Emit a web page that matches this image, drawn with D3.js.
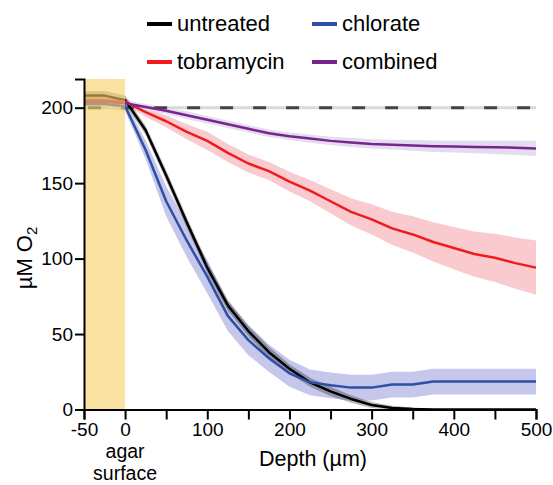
<!DOCTYPE html>
<html>
<head>
<meta charset="utf-8">
<script src="https://cdn.jsdelivr.net/npm/d3@7"></script>
<style>
    body { margin: 0; background: #fff; }
    text { font-family: "Liberation Sans", Arial, sans-serif; fill: #000; }
</style>
</head>
<body>
<script>
// Oxygen profiles below the agar surface, mean +/- spread per treatment

//Depth samples (um)
var depth = [-50, -25, 0, 25, 50, 75, 100, 125, 150, 175, 200, 225, 250,
    275, 300, 325, 350, 375, 400, 425, 450, 475, 500];

var untreated = [208, 208, 205, 185, 155, 124, 94, 69, 52, 38, 27, 18, 12,
    7, 3, 1, 0.3, 0, 0, 0, 0, 0, 0];
var untreatedSd = [3, 3, 3, 3, 3.5, 3.5, 3.5, 3.5, 3.5, 3.5, 3, 3, 3, 2.5,
    2, 1.5, 1, 0.5, 0, 0, 0, 0, 0];

var chlorate = [202.5, 202.5, 201, 172, 138, 112, 88, 62, 46, 34, 24, 18,
    16, 14.5, 14.5, 16.5, 16.5, 18.5, 18.5, 18.5, 18.5, 18.5, 18.5];
var chlorateSd = [3, 3, 3, 6, 10, 11, 11, 10, 10, 9, 9, 8.5, 8.5, 8.5, 8.5,
    8.5, 8.5, 8.5, 8.5, 8.5, 8.5, 8.5, 8.5];

var tobramycin = [205, 205, 204, 197, 191, 184, 178, 170, 163, 158, 151, 145,
    138, 131, 126, 120, 116, 111, 107, 103, 100.5, 97, 94];
var tobramycinSd = [2, 2, 2, 3, 4, 5, 6, 6, 6, 6, 6.5, 7, 8, 9, 10, 11, 12,
    13, 14, 15, 16, 17, 18];

var combined = [204, 204, 203, 200.5, 198, 195, 192, 189, 186, 183, 181,
    179.5, 178, 177, 176, 175.5, 175, 174.5, 174.3, 174, 173.8, 173.5, 173];
var combinedSd = [2, 2, 2, 2, 2, 2.5, 2.5, 2.5, 2.5, 2.5, 2.5, 2.7, 2.8, 3,
    3, 3.2, 3.5, 3.8, 4, 4.2, 4.5, 4.8, 5];

//Reference level and tick labels
var airLevel = 200;
var xTicks = [-50, 0, 50, 100, 150, 200, 250, 300, 350, 400, 450, 500];
var xLabels = ["-50", "0", "", "100", "", "200", "", "300", "", "400", "",
    "500"];
var yTicks = [0, 50, 100, 150, 200];

var series = [
    {name: "untreated", values: untreated, sd: untreatedSd,
        color: "#000000", band: "rgba(0,0,0,0.28)"},
    {name: "chlorate", values: chlorate, sd: chlorateSd,
        color: "#2f4ea6", band: "#c5c8ea"},
    {name: "tobramycin", values: tobramycin, sd: tobramycinSd,
        color: "#f01c1c", band: "#f9cbcf"},
    {name: "combined", values: combined, sd: combinedSd,
        color: "#7b2490", band: "#e2ddef"}
];

var width = 553,
    height = 485;

var svg = d3.select("body")
    .append("svg")
    .attr("width", width)
    .attr("height", height);

var x = d3.scaleLinear()
    .domain([-50, 500])
    .range([84, 536]);

var y = d3.scaleLinear()
    .domain([0, 219])
    .range([409.5, 79]);

//Bands first, in the order they stack in the figure
var bandOrder = [1, 2, 3, 0];
bandOrder.forEach(function(i) {
    var s = series[i];
    var area = d3.area()
        .x(function(d, j) { return x(depth[j]); })
        .y0(function(d, j) { return y(Math.max(0, d - s.sd[j])); })
        .y1(function(d, j) { return y(d + s.sd[j]); });
    svg.append("path")
        .datum(s.values)
        .attr("d", area)
        .attr("fill", s.band);
});

//Dashed reference line at air saturation
svg.append("line")
    .attr("x1", x(-50)).attr("x2", x(500))
    .attr("y1", y(airLevel)).attr("y2", y(airLevel))
    .attr("stroke", "#d9d9d9")
    .attr("stroke-width", 3);
svg.append("line")
    .attr("x1", x(-45)).attr("x2", x(500))
    .attr("y1", y(airLevel)).attr("y2", y(airLevel))
    .attr("stroke", "#444")
    .attr("stroke-width", 3)
    .attr("stroke-dasharray", "13,20");

//Mean lines
var line = d3.line()
    .x(function(d, j) { return x(depth[j]); })
    .y(function(d) { return y(d); });

series.forEach(function(s) {
    svg.append("path")
        .datum(s.values)
        .attr("d", line)
        .attr("fill", "none")
        .attr("stroke", s.color)
        .attr("stroke-width", 2.5)
        .attr("stroke-linejoin", "round");
});

//Agar region shading (translucent so lines show through)
svg.append("rect")
    .attr("x", x(-50))
    .attr("y", y(219))
    .attr("width", x(0) - x(-50))
    .attr("height", y(0) - y(219))
    .attr("fill", "rgb(247,209,100)")
    .attr("opacity", 0.6);

//Axes
var xAxis = d3.axisBottom(x)
    .tickValues(xTicks)
    .tickSize(10)
    .tickPadding(3)
    .tickFormat(function(d, i) { return xLabels[i]; });

svg.append("g")
    .attr("transform", "translate(0," + y(0) + ")")
    .call(xAxis);

var yAxis = d3.axisLeft(y)
    .tickValues(yTicks)
    .tickSize(9)
    .tickPadding(2);

svg.append("g")
    .attr("transform", "translate(" + x(-50) + ",0)")
    .call(yAxis);

svg.selectAll(".domain, .tick line")
    .attr("stroke", "#000")
    .attr("stroke-width", 2);
svg.selectAll(".tick text")
    .style("font-size", "19px")
    .style("font-family", "'Liberation Sans', Arial, sans-serif");

//Axis titles
svg.append("text")
    .attr("x", x(0))
    .attr("y", 458)
    .attr("text-anchor", "middle")
    .style("font-size", "19.5px")
    .text("agar");
svg.append("text")
    .attr("x", x(0))
    .attr("y", 480)
    .attr("text-anchor", "middle")
    .style("font-size", "19.5px")
    .text("surface");

svg.append("text")
    .attr("x", 313)
    .attr("y", 466)
    .attr("text-anchor", "middle")
    .style("font-size", "21.5px")
    .text("Depth (µm)");

var yTitle = svg.append("text")
    .attr("transform", "translate(32,258) rotate(-90)")
    .attr("text-anchor", "middle")
    .style("font-size", "22px");
yTitle.append("tspan").text("µM O");
yTitle.append("tspan")
    .attr("dy", 5)
    .style("font-size", "15px")
    .text("2");

//Legend, two rows of two
var legendPos = [[147, 24], [312, 24], [147, 62], [312, 62]];
var legendOrder = [0, 1, 2, 3];
legendOrder.forEach(function(i, k) {
    var p = legendPos[k];
    svg.append("line")
        .attr("x1", p[0]).attr("x2", p[0] + 25)
        .attr("y1", p[1]).attr("y2", p[1])
        .attr("stroke", series[i].color)
        .attr("stroke-width", 4);
    svg.append("text")
        .attr("x", p[0] + 30)
        .attr("y", p[1] + 7)
        .style("font-size", "22px")
        .text(series[i].name);
});
</script>
</body>
</html>
